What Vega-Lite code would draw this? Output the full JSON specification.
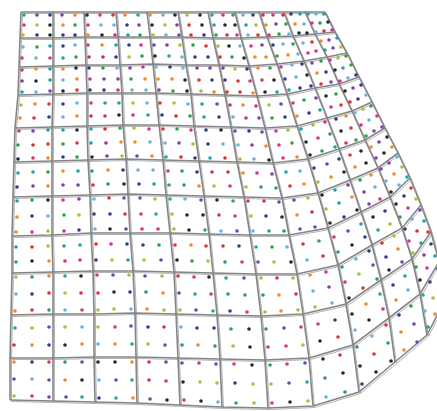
{
"$schema": "https://vega.github.io/schema/vega-lite/v6.json",
"width": 437, "height": 411, "padding": 0, "autosize": {"type": "none"},
"background": "white",
"config": {"view": {"stroke": null}},
"datasets": {
"nodes": [
{"i":0,"j":0,"x":21,"y":12},{"i":0,"j":1,"x":53,"y":12},{"i":0,"j":2,"x":84,"y":12},{"i":0,"j":3,"x":116,"y":12},{"i":0,"j":4,"x":147,"y":12},{"i":0,"j":5,"x":178,"y":12},{"i":0,"j":6,"x":208,"y":12},{"i":0,"j":7,"x":235,"y":12},{"i":0,"j":8,"x":259,"y":12},{"i":0,"j":9,"x":284,"y":12},{"i":0,"j":10,"x":305,"y":12},{"i":0,"j":11,"x":325,"y":12},
{"i":1,"j":0,"x":20,"y":38},{"i":1,"j":1,"x":53,"y":38},{"i":1,"j":2,"x":85,"y":37},{"i":1,"j":3,"x":118,"y":37},{"i":1,"j":4,"x":150,"y":37},{"i":1,"j":5,"x":182,"y":37},{"i":1,"j":6,"x":213,"y":38},{"i":1,"j":7,"x":241,"y":38},{"i":1,"j":8,"x":267,"y":37},{"i":1,"j":9,"x":293,"y":36},{"i":1,"j":10,"x":315,"y":34},{"i":1,"j":11,"x":335,"y":32},
{"i":2,"j":0,"x":19,"y":67},{"i":2,"j":1,"x":53,"y":66},{"i":2,"j":2,"x":86,"y":65},{"i":2,"j":3,"x":120,"y":65},{"i":2,"j":4,"x":153,"y":64},{"i":2,"j":5,"x":186,"y":65},{"i":2,"j":6,"x":219,"y":65},{"i":2,"j":7,"x":249,"y":66},{"i":2,"j":8,"x":277,"y":64},{"i":2,"j":9,"x":304,"y":61},{"i":2,"j":10,"x":327,"y":57},{"i":2,"j":11,"x":347,"y":53},
{"i":3,"j":0,"x":18,"y":95},{"i":3,"j":1,"x":53,"y":94},{"i":3,"j":2,"x":87,"y":93},{"i":3,"j":3,"x":122,"y":93},{"i":3,"j":4,"x":156,"y":93},{"i":3,"j":5,"x":191,"y":94},{"i":3,"j":6,"x":225,"y":95},{"i":3,"j":7,"x":257,"y":96},{"i":3,"j":8,"x":287,"y":94},{"i":3,"j":9,"x":315,"y":88},{"i":3,"j":10,"x":339,"y":84},{"i":3,"j":11,"x":359,"y":77},
{"i":4,"j":0,"x":15,"y":128},{"i":4,"j":1,"x":52,"y":127},{"i":4,"j":2,"x":87,"y":126},{"i":4,"j":3,"x":123,"y":125},{"i":4,"j":4,"x":159,"y":125},{"i":4,"j":5,"x":194,"y":126},{"i":4,"j":6,"x":231,"y":127},{"i":4,"j":7,"x":265,"y":128},{"i":4,"j":8,"x":297,"y":126},{"i":4,"j":9,"x":327,"y":118},{"i":4,"j":10,"x":352,"y":111},{"i":4,"j":11,"x":372,"y":102},
{"i":5,"j":0,"x":14,"y":162},{"i":5,"j":1,"x":52,"y":161},{"i":5,"j":2,"x":88,"y":160},{"i":5,"j":3,"x":126,"y":159},{"i":5,"j":4,"x":163,"y":160},{"i":5,"j":5,"x":199,"y":161},{"i":5,"j":6,"x":237,"y":162},{"i":5,"j":7,"x":273,"y":163},{"i":5,"j":8,"x":308,"y":159},{"i":5,"j":9,"x":339,"y":149},{"i":5,"j":10,"x":365,"y":140},{"i":5,"j":11,"x":385,"y":128},
{"i":6,"j":0,"x":13,"y":197},{"i":6,"j":1,"x":52,"y":196},{"i":6,"j":2,"x":90,"y":195},{"i":6,"j":3,"x":128,"y":194},{"i":6,"j":4,"x":166,"y":195},{"i":6,"j":5,"x":204,"y":196},{"i":6,"j":6,"x":244,"y":197},{"i":6,"j":7,"x":282,"y":198},{"i":6,"j":8,"x":318,"y":193},{"i":6,"j":9,"x":350,"y":180},{"i":6,"j":10,"x":378,"y":168},{"i":6,"j":11,"x":398,"y":153},
{"i":7,"j":0,"x":12,"y":236},{"i":7,"j":1,"x":52,"y":235},{"i":7,"j":2,"x":91,"y":233},{"i":7,"j":3,"x":130,"y":233},{"i":7,"j":4,"x":170,"y":233},{"i":7,"j":5,"x":209,"y":234},{"i":7,"j":6,"x":250,"y":235},{"i":7,"j":7,"x":289,"y":235},{"i":7,"j":8,"x":328,"y":228},{"i":7,"j":9,"x":361,"y":212},{"i":7,"j":10,"x":390,"y":197},{"i":7,"j":11,"x":410,"y":178},
{"i":8,"j":0,"x":12,"y":273},{"i":8,"j":1,"x":53,"y":272},{"i":8,"j":2,"x":93,"y":271},{"i":8,"j":3,"x":133,"y":271},{"i":8,"j":4,"x":174,"y":272},{"i":8,"j":5,"x":213,"y":273},{"i":8,"j":6,"x":256,"y":274},{"i":8,"j":7,"x":297,"y":274},{"i":8,"j":8,"x":338,"y":265},{"i":8,"j":9,"x":372,"y":245},{"i":8,"j":10,"x":402,"y":228},{"i":8,"j":11,"x":421,"y":205},
{"i":9,"j":0,"x":11,"y":315},{"i":9,"j":1,"x":53,"y":314},{"i":9,"j":2,"x":94,"y":314},{"i":9,"j":3,"x":135,"y":313},{"i":9,"j":4,"x":176,"y":314},{"i":9,"j":5,"x":217,"y":315},{"i":9,"j":6,"x":261,"y":316},{"i":9,"j":7,"x":303,"y":314},{"i":9,"j":8,"x":346,"y":304},{"i":9,"j":9,"x":381,"y":280},{"i":9,"j":10,"x":412,"y":259},{"i":9,"j":11,"x":431,"y":232},
{"i":10,"j":0,"x":10,"y":358},{"i":10,"j":1,"x":53,"y":358},{"i":10,"j":2,"x":94,"y":357},{"i":10,"j":3,"x":136,"y":357},{"i":10,"j":4,"x":178,"y":358},{"i":10,"j":5,"x":220,"y":359},{"i":10,"j":6,"x":265,"y":360},{"i":10,"j":7,"x":309,"y":358},{"i":10,"j":8,"x":353,"y":345},{"i":10,"j":9,"x":389,"y":318},{"i":10,"j":10,"x":420,"y":294},{"i":10,"j":11,"x":439,"y":262},
{"i":11,"j":0,"x":10,"y":400},{"i":11,"j":1,"x":53,"y":401},{"i":11,"j":2,"x":95,"y":402},{"i":11,"j":3,"x":137,"y":403},{"i":11,"j":4,"x":180,"y":405},{"i":11,"j":5,"x":222,"y":407},{"i":11,"j":6,"x":268,"y":408},{"i":11,"j":7,"x":313,"y":406},{"i":11,"j":8,"x":359,"y":392},{"i":11,"j":9,"x":395,"y":362},{"i":11,"j":10,"x":427,"y":335},{"i":11,"j":11,"x":445,"y":300}
],
"dots": [
{"x":24,"y":15,"c":3},{"x":37,"y":15,"c":1},{"x":50,"y":15,"c":4},{"x":62,"y":15,"c":1},{"x":75,"y":15,"c":5},{"x":87,"y":15,"c":9},{"x":100,"y":15,"c":2},{"x":113,"y":15,"c":6},{"x":125,"y":15,"c":5},{"x":138,"y":15,"c":3},{"x":150,"y":15,"c":5},{"x":163,"y":15,"c":8},{"x":175,"y":15,"c":9},{"x":187,"y":15,"c":7},{"x":200,"y":15,"c":9},{"x":212,"y":15,"c":3},{"x":223,"y":15,"c":2},{"x":233,"y":15,"c":3},{"x":243,"y":15,"c":8},{"x":253,"y":15,"c":4},{"x":263,"y":15,"c":6},{"x":273,"y":15,"c":2},{"x":283,"y":15,"c":6},{"x":291,"y":14,"c":4},{"x":300,"y":14,"c":3},{"x":308,"y":14,"c":3},{"x":316,"y":14,"c":8},{"x":324,"y":14,"c":3},
{"x":24,"y":25,"c":2},{"x":37,"y":25,"c":7},{"x":50,"y":25,"c":9},{"x":63,"y":25,"c":5},{"x":75,"y":25,"c":0},{"x":88,"y":25,"c":2},{"x":101,"y":25,"c":8},{"x":114,"y":25,"c":8},{"x":127,"y":25,"c":4},{"x":139,"y":25,"c":1},{"x":152,"y":25,"c":9},{"x":165,"y":25,"c":7},{"x":177,"y":25,"c":1},{"x":189,"y":25,"c":6},{"x":202,"y":25,"c":9},{"x":214,"y":25,"c":3},{"x":225,"y":25,"c":9},{"x":235,"y":25,"c":9},{"x":246,"y":25,"c":3},{"x":256,"y":25,"c":7},{"x":266,"y":25,"c":5},{"x":276,"y":24,"c":1},{"x":286,"y":24,"c":0},{"x":295,"y":24,"c":5},{"x":304,"y":24,"c":8},{"x":312,"y":23,"c":2},{"x":320,"y":23,"c":0},{"x":328,"y":22,"c":9},
{"x":23,"y":35,"c":7},{"x":37,"y":35,"c":4},{"x":50,"y":35,"c":9},{"x":63,"y":35,"c":4},{"x":75,"y":35,"c":4},{"x":88,"y":35,"c":5},{"x":102,"y":35,"c":9},{"x":115,"y":35,"c":2},{"x":128,"y":35,"c":3},{"x":140,"y":35,"c":0},{"x":153,"y":35,"c":7},{"x":166,"y":35,"c":8},{"x":179,"y":35,"c":1},{"x":191,"y":35,"c":6},{"x":204,"y":35,"c":4},{"x":216,"y":35,"c":0},{"x":227,"y":35,"c":6},{"x":237,"y":35,"c":2},{"x":248,"y":35,"c":8},{"x":258,"y":35,"c":6},{"x":269,"y":35,"c":2},{"x":279,"y":34,"c":0},{"x":289,"y":34,"c":8},{"x":299,"y":33,"c":9},{"x":307,"y":33,"c":9},{"x":316,"y":32,"c":8},{"x":324,"y":31,"c":6},{"x":332,"y":30,"c":2},
{"x":23,"y":47,"c":8},{"x":37,"y":47,"c":0},{"x":50,"y":46,"c":3},{"x":63,"y":46,"c":4},{"x":75,"y":45,"c":8},{"x":88,"y":45,"c":2},{"x":102,"y":45,"c":5},{"x":116,"y":45,"c":3},{"x":129,"y":45,"c":4},{"x":141,"y":45,"c":2},{"x":154,"y":45,"c":1},{"x":167,"y":45,"c":1},{"x":180,"y":45,"c":7},{"x":193,"y":45,"c":0},{"x":206,"y":46,"c":6},{"x":218,"y":46,"c":7},{"x":229,"y":46,"c":9},{"x":240,"y":46,"c":8},{"x":251,"y":46,"c":2},{"x":262,"y":45,"c":1},{"x":273,"y":45,"c":4},{"x":283,"y":44,"c":8},{"x":293,"y":44,"c":0},{"x":303,"y":43,"c":8},{"x":312,"y":42,"c":6},{"x":321,"y":41,"c":5},{"x":329,"y":40,"c":1},{"x":337,"y":38,"c":3},
{"x":22,"y":58,"c":2},{"x":36,"y":58,"c":8},{"x":50,"y":58,"c":2},{"x":63,"y":58,"c":3},{"x":76,"y":57,"c":0},{"x":89,"y":57,"c":6},{"x":103,"y":57,"c":6},{"x":116,"y":57,"c":4},{"x":129,"y":57,"c":7},{"x":142,"y":56,"c":0},{"x":155,"y":56,"c":9},{"x":169,"y":56,"c":3},{"x":182,"y":57,"c":8},{"x":195,"y":57,"c":4},{"x":208,"y":57,"c":4},{"x":220,"y":57,"c":6},{"x":232,"y":57,"c":0},{"x":244,"y":58,"c":9},{"x":255,"y":57,"c":5},{"x":266,"y":57,"c":5},{"x":277,"y":56,"c":0},{"x":288,"y":55,"c":5},{"x":298,"y":54,"c":8},{"x":308,"y":53,"c":2},{"x":316,"y":51,"c":2},{"x":325,"y":50,"c":3},{"x":333,"y":48,"c":1},{"x":341,"y":47,"c":7},
{"x":22,"y":70,"c":2},{"x":36,"y":69,"c":5},{"x":50,"y":69,"c":3},{"x":63,"y":69,"c":5},{"x":76,"y":68,"c":9},{"x":89,"y":68,"c":4},{"x":103,"y":68,"c":0},{"x":117,"y":68,"c":8},{"x":130,"y":68,"c":1},{"x":143,"y":67,"c":2},{"x":156,"y":67,"c":8},{"x":170,"y":67,"c":4},{"x":183,"y":68,"c":8},{"x":197,"y":68,"c":1},{"x":210,"y":68,"c":1},{"x":223,"y":68,"c":1},{"x":235,"y":69,"c":7},{"x":247,"y":69,"c":4},{"x":258,"y":68,"c":5},{"x":270,"y":68,"c":0},{"x":281,"y":67,"c":2},{"x":292,"y":65,"c":8},{"x":302,"y":64,"c":4},{"x":312,"y":63,"c":1},{"x":321,"y":61,"c":0},{"x":330,"y":60,"c":2},{"x":338,"y":58,"c":7},{"x":346,"y":56,"c":0},
{"x":22,"y":81,"c":1},{"x":36,"y":81,"c":9},{"x":50,"y":80,"c":3},{"x":63,"y":80,"c":8},{"x":77,"y":79,"c":5},{"x":90,"y":79,"c":2},{"x":104,"y":79,"c":1},{"x":118,"y":79,"c":1},{"x":131,"y":79,"c":0},{"x":145,"y":79,"c":5},{"x":158,"y":79,"c":5},{"x":172,"y":79,"c":5},{"x":185,"y":80,"c":9},{"x":199,"y":80,"c":6},{"x":212,"y":80,"c":4},{"x":225,"y":80,"c":4},{"x":238,"y":81,"c":6},{"x":250,"y":81,"c":2},{"x":262,"y":80,"c":2},{"x":274,"y":80,"c":9},{"x":285,"y":79,"c":4},{"x":296,"y":77,"c":8},{"x":307,"y":75,"c":9},{"x":317,"y":73,"c":5},{"x":326,"y":72,"c":4},{"x":335,"y":70,"c":9},{"x":343,"y":68,"c":3},{"x":351,"y":65,"c":0},
{"x":22,"y":92,"c":3},{"x":36,"y":92,"c":8},{"x":50,"y":91,"c":1},{"x":63,"y":91,"c":9},{"x":77,"y":90,"c":6},{"x":90,"y":90,"c":4},{"x":104,"y":90,"c":4},{"x":118,"y":90,"c":2},{"x":132,"y":90,"c":8},{"x":146,"y":90,"c":8},{"x":159,"y":90,"c":1},{"x":173,"y":91,"c":0},{"x":187,"y":91,"c":9},{"x":201,"y":91,"c":7},{"x":214,"y":92,"c":5},{"x":227,"y":92,"c":6},{"x":240,"y":92,"c":6},{"x":253,"y":93,"c":5},{"x":265,"y":92,"c":9},{"x":277,"y":92,"c":3},{"x":289,"y":90,"c":3},{"x":300,"y":88,"c":4},{"x":311,"y":86,"c":4},{"x":321,"y":84,"c":6},{"x":331,"y":82,"c":1},{"x":340,"y":81,"c":2},{"x":348,"y":78,"c":8},{"x":356,"y":75,"c":4},
{"x":21,"y":105,"c":7},{"x":35,"y":104,"c":5},{"x":49,"y":104,"c":6},{"x":63,"y":104,"c":4},{"x":77,"y":103,"c":8},{"x":91,"y":103,"c":2},{"x":105,"y":103,"c":3},{"x":119,"y":103,"c":3},{"x":133,"y":103,"c":7},{"x":147,"y":103,"c":8},{"x":160,"y":103,"c":6},{"x":174,"y":103,"c":7},{"x":188,"y":104,"c":8},{"x":202,"y":104,"c":3},{"x":217,"y":104,"c":1},{"x":230,"y":105,"c":6},{"x":243,"y":105,"c":5},{"x":256,"y":106,"c":2},{"x":269,"y":105,"c":7},{"x":281,"y":104,"c":1},{"x":293,"y":103,"c":2},{"x":304,"y":100,"c":0},{"x":316,"y":98,"c":1},{"x":326,"y":96,"c":9},{"x":336,"y":94,"c":0},{"x":345,"y":91,"c":9},{"x":353,"y":88,"c":1},{"x":361,"y":85,"c":4},
{"x":20,"y":118,"c":5},{"x":34,"y":118,"c":6},{"x":49,"y":117,"c":4},{"x":63,"y":117,"c":8},{"x":77,"y":116,"c":5},{"x":91,"y":116,"c":6},{"x":105,"y":116,"c":6},{"x":119,"y":115,"c":9},{"x":133,"y":115,"c":2},{"x":148,"y":115,"c":3},{"x":162,"y":115,"c":4},{"x":176,"y":116,"c":6},{"x":190,"y":116,"c":0},{"x":204,"y":117,"c":3},{"x":219,"y":117,"c":4},{"x":233,"y":117,"c":8},{"x":246,"y":118,"c":6},{"x":259,"y":118,"c":1},{"x":272,"y":118,"c":0},{"x":285,"y":117,"c":4},{"x":297,"y":116,"c":5},{"x":309,"y":113,"c":4},{"x":320,"y":110,"c":3},{"x":331,"y":107,"c":2},{"x":341,"y":105,"c":6},{"x":350,"y":102,"c":6},{"x":358,"y":99,"c":4},{"x":366,"y":95,"c":8},
{"x":19,"y":131,"c":2},{"x":33,"y":131,"c":1},{"x":48,"y":130,"c":3},{"x":63,"y":130,"c":3},{"x":77,"y":130,"c":9},{"x":91,"y":129,"c":3},{"x":105,"y":129,"c":6},{"x":120,"y":128,"c":0},{"x":134,"y":128,"c":7},{"x":149,"y":129,"c":2},{"x":163,"y":129,"c":6},{"x":177,"y":129,"c":0},{"x":191,"y":130,"c":2},{"x":206,"y":130,"c":4},{"x":221,"y":130,"c":9},{"x":235,"y":131,"c":1},{"x":249,"y":131,"c":4},{"x":262,"y":132,"c":1},{"x":276,"y":131,"c":2},{"x":288,"y":130,"c":7},{"x":301,"y":129,"c":3},{"x":313,"y":125,"c":7},{"x":325,"y":122,"c":2},{"x":336,"y":119,"c":4},{"x":346,"y":116,"c":5},{"x":355,"y":113,"c":8},{"x":363,"y":109,"c":7},{"x":371,"y":106,"c":0},
{"x":18,"y":145,"c":0},{"x":33,"y":145,"c":6},{"x":48,"y":144,"c":6},{"x":63,"y":144,"c":0},{"x":77,"y":143,"c":6},{"x":91,"y":143,"c":3},{"x":106,"y":143,"c":1},{"x":121,"y":142,"c":5},{"x":135,"y":142,"c":5},{"x":150,"y":142,"c":8},{"x":165,"y":143,"c":8},{"x":179,"y":143,"c":1},{"x":193,"y":144,"c":7},{"x":208,"y":144,"c":4},{"x":223,"y":144,"c":8},{"x":238,"y":145,"c":8},{"x":252,"y":145,"c":1},{"x":266,"y":146,"c":5},{"x":279,"y":145,"c":2},{"x":292,"y":143,"c":0},{"x":306,"y":142,"c":9},{"x":318,"y":138,"c":2},{"x":330,"y":134,"c":0},{"x":341,"y":131,"c":9},{"x":351,"y":128,"c":6},{"x":361,"y":125,"c":2},{"x":369,"y":120,"c":8},{"x":377,"y":116,"c":2},
{"x":18,"y":159,"c":9},{"x":33,"y":158,"c":2},{"x":48,"y":158,"c":5},{"x":63,"y":157,"c":4},{"x":77,"y":157,"c":0},{"x":92,"y":157,"c":9},{"x":107,"y":156,"c":1},{"x":122,"y":156,"c":7},{"x":137,"y":156,"c":1},{"x":152,"y":156,"c":5},{"x":166,"y":157,"c":3},{"x":181,"y":157,"c":6},{"x":195,"y":158,"c":4},{"x":210,"y":158,"c":3},{"x":225,"y":158,"c":6},{"x":240,"y":159,"c":7},{"x":254,"y":159,"c":8},{"x":269,"y":160,"c":9},{"x":283,"y":158,"c":2},{"x":297,"y":157,"c":5},{"x":310,"y":155,"c":9},{"x":322,"y":151,"c":0},{"x":335,"y":147,"c":3},{"x":346,"y":143,"c":6},{"x":356,"y":140,"c":0},{"x":366,"y":136,"c":0},{"x":374,"y":131,"c":1},{"x":382,"y":127,"c":1},
{"x":18,"y":173,"c":3},{"x":33,"y":172,"c":3},{"x":48,"y":172,"c":0},{"x":63,"y":171,"c":5},{"x":78,"y":171,"c":3},{"x":92,"y":171,"c":0},{"x":108,"y":170,"c":5},{"x":123,"y":170,"c":4},{"x":138,"y":170,"c":8},{"x":153,"y":170,"c":8},{"x":168,"y":171,"c":2},{"x":182,"y":171,"c":0},{"x":197,"y":172,"c":4},{"x":212,"y":172,"c":6},{"x":228,"y":172,"c":6},{"x":243,"y":173,"c":5},{"x":257,"y":173,"c":2},{"x":272,"y":174,"c":1},{"x":286,"y":172,"c":3},{"x":300,"y":171,"c":8},{"x":314,"y":168,"c":4},{"x":327,"y":164,"c":1},{"x":339,"y":159,"c":4},{"x":350,"y":155,"c":6},{"x":361,"y":151,"c":9},{"x":371,"y":147,"c":5},{"x":379,"y":142,"c":1},{"x":387,"y":137,"c":9},
{"x":17,"y":187,"c":4},{"x":33,"y":186,"c":1},{"x":48,"y":186,"c":5},{"x":63,"y":185,"c":1},{"x":78,"y":185,"c":1},{"x":93,"y":185,"c":6},{"x":108,"y":184,"c":0},{"x":124,"y":184,"c":9},{"x":139,"y":184,"c":4},{"x":154,"y":184,"c":3},{"x":169,"y":185,"c":3},{"x":184,"y":185,"c":0},{"x":199,"y":186,"c":5},{"x":214,"y":186,"c":7},{"x":230,"y":186,"c":2},{"x":246,"y":187,"c":7},{"x":261,"y":187,"c":0},{"x":276,"y":188,"c":3},{"x":290,"y":186,"c":6},{"x":304,"y":184,"c":5},{"x":318,"y":182,"c":7},{"x":331,"y":177,"c":5},{"x":344,"y":172,"c":9},{"x":355,"y":167,"c":5},{"x":366,"y":163,"c":9},{"x":376,"y":158,"c":1},{"x":384,"y":153,"c":9},{"x":392,"y":147,"c":5},
{"x":17,"y":201,"c":3},{"x":32,"y":200,"c":0},{"x":48,"y":200,"c":9},{"x":63,"y":200,"c":2},{"x":79,"y":199,"c":1},{"x":94,"y":199,"c":8},{"x":109,"y":198,"c":6},{"x":124,"y":198,"c":1},{"x":140,"y":198,"c":1},{"x":155,"y":199,"c":7},{"x":170,"y":199,"c":3},{"x":185,"y":199,"c":8},{"x":201,"y":200,"c":1},{"x":217,"y":200,"c":9},{"x":233,"y":201,"c":3},{"x":248,"y":201,"c":2},{"x":264,"y":201,"c":6},{"x":279,"y":202,"c":1},{"x":294,"y":200,"c":1},{"x":308,"y":198,"c":7},{"x":322,"y":195,"c":9},{"x":335,"y":190,"c":3},{"x":348,"y":185,"c":1},{"x":360,"y":180,"c":0},{"x":371,"y":175,"c":5},{"x":381,"y":169,"c":1},{"x":389,"y":163,"c":1},{"x":397,"y":157,"c":8},
{"x":17,"y":217,"c":5},{"x":32,"y":216,"c":4},{"x":48,"y":216,"c":8},{"x":64,"y":215,"c":0},{"x":79,"y":215,"c":7},{"x":94,"y":214,"c":4},{"x":110,"y":214,"c":4},{"x":125,"y":214,"c":6},{"x":141,"y":214,"c":2},{"x":156,"y":214,"c":3},{"x":172,"y":214,"c":7},{"x":187,"y":215,"c":9},{"x":203,"y":215,"c":9},{"x":219,"y":215,"c":6},{"x":235,"y":216,"c":2},{"x":251,"y":216,"c":7},{"x":266,"y":216,"c":4},{"x":282,"y":217,"c":9},{"x":297,"y":215,"c":5},{"x":312,"y":212,"c":6},{"x":326,"y":209,"c":7},{"x":339,"y":203,"c":3},{"x":352,"y":197,"c":5},{"x":364,"y":192,"c":1},{"x":375,"y":187,"c":8},{"x":386,"y":181,"c":8},{"x":394,"y":174,"c":5},{"x":402,"y":167,"c":7},
{"x":16,"y":232,"c":5},{"x":32,"y":232,"c":2},{"x":48,"y":231,"c":7},{"x":64,"y":231,"c":2},{"x":79,"y":230,"c":4},{"x":95,"y":229,"c":8},{"x":110,"y":229,"c":9},{"x":126,"y":229,"c":1},{"x":142,"y":229,"c":2},{"x":158,"y":229,"c":2},{"x":174,"y":229,"c":7},{"x":189,"y":230,"c":9},{"x":205,"y":230,"c":3},{"x":221,"y":231,"c":8},{"x":237,"y":231,"c":1},{"x":253,"y":231,"c":8},{"x":269,"y":231,"c":3},{"x":284,"y":231,"c":0},{"x":300,"y":229,"c":1},{"x":315,"y":227,"c":1},{"x":330,"y":223,"c":9},{"x":344,"y":217,"c":4},{"x":357,"y":210,"c":9},{"x":369,"y":204,"c":1},{"x":380,"y":199,"c":2},{"x":391,"y":192,"c":9},{"x":399,"y":185,"c":8},{"x":407,"y":177,"c":3},
{"x":16,"y":247,"c":3},{"x":32,"y":247,"c":6},{"x":48,"y":246,"c":7},{"x":64,"y":246,"c":3},{"x":80,"y":245,"c":3},{"x":96,"y":244,"c":6},{"x":111,"y":244,"c":2},{"x":127,"y":244,"c":4},{"x":143,"y":245,"c":4},{"x":159,"y":245,"c":0},{"x":175,"y":245,"c":6},{"x":191,"y":245,"c":5},{"x":206,"y":246,"c":6},{"x":223,"y":246,"c":6},{"x":239,"y":246,"c":4},{"x":256,"y":247,"c":3},{"x":272,"y":247,"c":0},{"x":287,"y":247,"c":8},{"x":303,"y":244,"c":6},{"x":319,"y":241,"c":0},{"x":334,"y":237,"c":2},{"x":348,"y":231,"c":1},{"x":361,"y":224,"c":3},{"x":373,"y":217,"c":9},{"x":385,"y":211,"c":4},{"x":396,"y":204,"c":9},{"x":404,"y":196,"c":4},{"x":411,"y":188,"c":6},
{"x":16,"y":262,"c":3},{"x":32,"y":261,"c":9},{"x":49,"y":261,"c":5},{"x":65,"y":261,"c":2},{"x":80,"y":260,"c":2},{"x":96,"y":260,"c":4},{"x":112,"y":260,"c":7},{"x":128,"y":260,"c":3},{"x":144,"y":260,"c":7},{"x":161,"y":260,"c":1},{"x":177,"y":260,"c":9},{"x":192,"y":261,"c":0},{"x":208,"y":261,"c":7},{"x":225,"y":262,"c":0},{"x":242,"y":262,"c":2},{"x":258,"y":262,"c":1},{"x":274,"y":262,"c":7},{"x":291,"y":262,"c":9},{"x":307,"y":260,"c":8},{"x":323,"y":256,"c":6},{"x":338,"y":252,"c":0},{"x":352,"y":245,"c":9},{"x":365,"y":237,"c":4},{"x":378,"y":230,"c":3},{"x":390,"y":224,"c":7},{"x":400,"y":217,"c":0},{"x":408,"y":208,"c":2},{"x":416,"y":199,"c":7},
{"x":16,"y":277,"c":7},{"x":32,"y":277,"c":0},{"x":49,"y":276,"c":5},{"x":65,"y":276,"c":3},{"x":81,"y":276,"c":9},{"x":97,"y":275,"c":2},{"x":113,"y":275,"c":1},{"x":129,"y":275,"c":7},{"x":145,"y":276,"c":1},{"x":162,"y":276,"c":7},{"x":178,"y":276,"c":6},{"x":194,"y":277,"c":2},{"x":209,"y":277,"c":9},{"x":226,"y":278,"c":3},{"x":244,"y":278,"c":1},{"x":261,"y":278,"c":7},{"x":277,"y":278,"c":6},{"x":293,"y":278,"c":7},{"x":310,"y":275,"c":5},{"x":326,"y":272,"c":2},{"x":342,"y":267,"c":3},{"x":356,"y":259,"c":8},{"x":369,"y":251,"c":4},{"x":382,"y":243,"c":6},{"x":394,"y":236,"c":7},{"x":405,"y":229,"c":4},{"x":412,"y":219,"c":8},{"x":420,"y":210,"c":1},
{"x":16,"y":294,"c":8},{"x":32,"y":294,"c":4},{"x":49,"y":293,"c":6},{"x":65,"y":293,"c":7},{"x":81,"y":293,"c":6},{"x":98,"y":293,"c":6},{"x":114,"y":292,"c":9},{"x":130,"y":292,"c":4},{"x":146,"y":292,"c":0},{"x":163,"y":293,"c":5},{"x":179,"y":293,"c":1},{"x":195,"y":294,"c":3},{"x":211,"y":294,"c":2},{"x":228,"y":294,"c":0},{"x":245,"y":295,"c":0},{"x":263,"y":295,"c":0},{"x":279,"y":295,"c":5},{"x":296,"y":294,"c":6},{"x":313,"y":291,"c":8},{"x":329,"y":287,"c":1},{"x":345,"y":282,"c":2},{"x":359,"y":274,"c":7},{"x":373,"y":265,"c":1},{"x":386,"y":257,"c":4},{"x":398,"y":249,"c":5},{"x":409,"y":241,"c":2},{"x":417,"y":231,"c":6},{"x":424,"y":221,"c":3},
{"x":15,"y":311,"c":5},{"x":32,"y":310,"c":6},{"x":49,"y":310,"c":0},{"x":65,"y":310,"c":8},{"x":82,"y":310,"c":2},{"x":98,"y":310,"c":7},{"x":114,"y":309,"c":7},{"x":131,"y":309,"c":8},{"x":147,"y":309,"c":5},{"x":164,"y":310,"c":7},{"x":180,"y":310,"c":7},{"x":196,"y":310,"c":1},{"x":213,"y":311,"c":3},{"x":230,"y":311,"c":4},{"x":247,"y":312,"c":2},{"x":265,"y":312,"c":7},{"x":281,"y":311,"c":5},{"x":298,"y":310,"c":7},{"x":315,"y":307,"c":7},{"x":332,"y":303,"c":8},{"x":349,"y":298,"c":9},{"x":363,"y":288,"c":6},{"x":377,"y":279,"c":0},{"x":389,"y":270,"c":9},{"x":402,"y":262,"c":1},{"x":413,"y":253,"c":7},{"x":421,"y":243,"c":3},{"x":428,"y":232,"c":6},
{"x":15,"y":328,"c":3},{"x":32,"y":328,"c":7},{"x":49,"y":327,"c":1},{"x":65,"y":327,"c":7},{"x":82,"y":327,"c":8},{"x":98,"y":327,"c":7},{"x":115,"y":327,"c":2},{"x":131,"y":326,"c":1},{"x":148,"y":327,"c":4},{"x":164,"y":327,"c":6},{"x":181,"y":327,"c":8},{"x":197,"y":328,"c":4},{"x":214,"y":328,"c":4},{"x":231,"y":329,"c":0},{"x":249,"y":329,"c":9},{"x":266,"y":329,"c":0},{"x":284,"y":328,"c":1},{"x":301,"y":327,"c":2},{"x":318,"y":324,"c":2},{"x":335,"y":320,"c":4},{"x":352,"y":314,"c":9},{"x":366,"y":304,"c":5},{"x":380,"y":294,"c":3},{"x":393,"y":285,"c":4},{"x":405,"y":276,"c":3},{"x":416,"y":267,"c":0},{"x":424,"y":255,"c":1},{"x":431,"y":244,"c":4},
{"x":14,"y":345,"c":6},{"x":32,"y":345,"c":5},{"x":49,"y":345,"c":4},{"x":65,"y":345,"c":9},{"x":82,"y":344,"c":5},{"x":98,"y":344,"c":8},{"x":115,"y":344,"c":5},{"x":132,"y":344,"c":3},{"x":148,"y":344,"c":7},{"x":165,"y":345,"c":1},{"x":182,"y":345,"c":0},{"x":198,"y":345,"c":5},{"x":215,"y":346,"c":0},{"x":233,"y":346,"c":7},{"x":250,"y":347,"c":9},{"x":268,"y":347,"c":2},{"x":286,"y":346,"c":2},{"x":303,"y":345,"c":7},{"x":320,"y":341,"c":9},{"x":338,"y":337,"c":6},{"x":355,"y":330,"c":8},{"x":369,"y":320,"c":9},{"x":383,"y":309,"c":2},{"x":396,"y":300,"c":5},{"x":408,"y":290,"c":8},{"x":420,"y":280,"c":9},{"x":427,"y":268,"c":2},{"x":435,"y":256,"c":3},
{"x":14,"y":362,"c":5},{"x":32,"y":362,"c":4},{"x":49,"y":362,"c":2},{"x":65,"y":362,"c":0},{"x":82,"y":362,"c":1},{"x":98,"y":362,"c":9},{"x":115,"y":362,"c":9},{"x":132,"y":362,"c":5},{"x":149,"y":362,"c":6},{"x":166,"y":362,"c":1},{"x":182,"y":363,"c":1},{"x":199,"y":363,"c":2},{"x":216,"y":364,"c":1},{"x":234,"y":364,"c":2},{"x":252,"y":365,"c":9},{"x":270,"y":365,"c":0},{"x":287,"y":364,"c":2},{"x":305,"y":363,"c":1},{"x":323,"y":359,"c":9},{"x":340,"y":355,"c":6},{"x":357,"y":347,"c":0},{"x":372,"y":336,"c":8},{"x":386,"y":325,"c":6},{"x":399,"y":315,"c":4},{"x":411,"y":306,"c":0},{"x":423,"y":295,"c":3},{"x":430,"y":282,"c":4},{"x":438,"y":269,"c":4},
{"x":14,"y":379,"c":1},{"x":32,"y":379,"c":8},{"x":49,"y":380,"c":1},{"x":65,"y":380,"c":5},{"x":82,"y":380,"c":9},{"x":99,"y":380,"c":8},{"x":116,"y":380,"c":1},{"x":132,"y":380,"c":3},{"x":149,"y":380,"c":6},{"x":166,"y":381,"c":2},{"x":183,"y":382,"c":9},{"x":200,"y":382,"c":7},{"x":217,"y":383,"c":7},{"x":235,"y":383,"c":4},{"x":253,"y":384,"c":7},{"x":271,"y":384,"c":7},{"x":289,"y":383,"c":1},{"x":307,"y":382,"c":3},{"x":325,"y":378,"c":0},{"x":343,"y":373,"c":9},{"x":360,"y":366,"c":9},{"x":374,"y":354,"c":6},{"x":388,"y":343,"c":0},{"x":401,"y":332,"c":5},{"x":414,"y":324,"c":1},{"x":425,"y":311,"c":8},{"x":433,"y":298,"c":7},{"x":440,"y":284,"c":0},
{"x":14,"y":396,"c":7},{"x":32,"y":396,"c":2},{"x":49,"y":397,"c":1},{"x":66,"y":397,"c":1},{"x":82,"y":397,"c":3},{"x":99,"y":398,"c":4},{"x":116,"y":398,"c":3},{"x":133,"y":398,"c":5},{"x":150,"y":399,"c":1},{"x":167,"y":400,"c":9},{"x":184,"y":400,"c":2},{"x":201,"y":401,"c":9},{"x":218,"y":402,"c":8},{"x":236,"y":403,"c":3},{"x":254,"y":403,"c":7},{"x":272,"y":403,"c":2},{"x":290,"y":402,"c":9},{"x":308,"y":401,"c":7},{"x":326,"y":397,"c":8},{"x":345,"y":392,"c":0},{"x":362,"y":384,"c":4},{"x":376,"y":372,"c":9},{"x":391,"y":361,"c":9},{"x":404,"y":350,"c":5},{"x":417,"y":342,"c":1},{"x":428,"y":327,"c":0},{"x":435,"y":314,"c":5},{"x":443,"y":300,"c":9}
]
},
"layer": [
{"data": {"name": "nodes"}, "mark": {"type": "line", "stroke": "#b4b4b4", "strokeWidth": 1, "xOffset": 1.5, "yOffset": 1.5, "clip": true},
 "encoding": {
  "x": {"field": "x", "type": "quantitative", "scale": {"domain": [0, 437], "nice": false, "zero": false}, "axis": null},
  "y": {"field": "y", "type": "quantitative", "scale": {"domain": [0, 411], "nice": false, "zero": false, "reverse": true}, "axis": null},
  "detail": {"field": "i", "type": "nominal"},
  "order": {"field": "j", "type": "quantitative"}}},
{"data": {"name": "nodes"}, "mark": {"type": "line", "stroke": "#b4b4b4", "strokeWidth": 1, "xOffset": 1.5, "yOffset": 1.5, "clip": true},
 "encoding": {
  "x": {"field": "x", "type": "quantitative", "scale": {"domain": [0, 437], "nice": false, "zero": false}, "axis": null},
  "y": {"field": "y", "type": "quantitative", "scale": {"domain": [0, 411], "nice": false, "zero": false, "reverse": true}, "axis": null},
  "detail": {"field": "j", "type": "nominal"},
  "order": {"field": "i", "type": "quantitative"}}},
{"data": {"name": "nodes"}, "mark": {"type": "line", "stroke": "#858585", "strokeWidth": 1.6, "clip": true},
 "encoding": {
  "x": {"field": "x", "type": "quantitative", "scale": {"domain": [0, 437], "nice": false, "zero": false}, "axis": null},
  "y": {"field": "y", "type": "quantitative", "scale": {"domain": [0, 411], "nice": false, "zero": false, "reverse": true}, "axis": null},
  "detail": {"field": "i", "type": "nominal"},
  "order": {"field": "j", "type": "quantitative"}}},
{"data": {"name": "nodes"}, "mark": {"type": "line", "stroke": "#858585", "strokeWidth": 1.6, "clip": true},
 "encoding": {
  "x": {"field": "x", "type": "quantitative", "scale": {"domain": [0, 437], "nice": false, "zero": false}, "axis": null},
  "y": {"field": "y", "type": "quantitative", "scale": {"domain": [0, 411], "nice": false, "zero": false, "reverse": true}, "axis": null},
  "detail": {"field": "j", "type": "nominal"},
  "order": {"field": "i", "type": "quantitative"}}},
{"data": {"name": "dots"}, "mark": {"type": "circle", "size": 13, "opacity": 1, "clip": true},
 "encoding": {
  "x": {"field": "x", "type": "quantitative", "scale": {"domain": [0, 437], "nice": false, "zero": false}, "axis": null},
  "y": {"field": "y", "type": "quantitative", "scale": {"domain": [0, 411], "nice": false, "zero": false, "reverse": true}, "axis": null},
  "color": {"field": "c", "type": "nominal", "legend": null,
   "scale": {"domain": [0,1,2,3,4,5,6,7,8,9], "range": ["#2e9e4a","#7e3fa6","#d4318a","#1aa3a8","#2d3a8c","#f08a24","#d93232","#a9bf3a","#69b3e0","#1d2b2a"]}}}}
]
}
